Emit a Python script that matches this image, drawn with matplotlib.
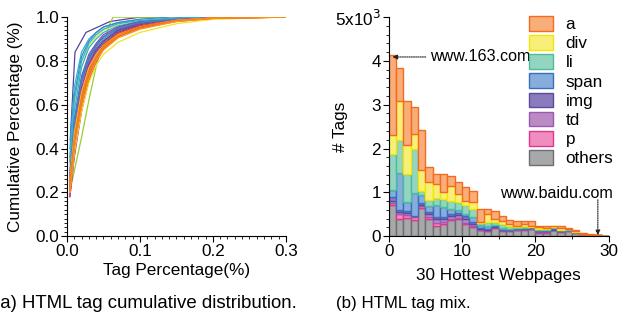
import numpy as np
import matplotlib.pyplot as plt
from matplotlib.ticker import MultipleLocator, FixedLocator

plt.rcParams['font.family'] = ['Liberation Sans', 'DejaVu Sans']

# ---- left: cumulative distribution of tag percentage, one curve per page ----
grid_x = [0.004, 0.01, 0.02, 0.03, 0.04, 0.05, 0.07, 0.1, 0.15, 0.2, 0.3]

# two pages that stand out
purple_x = [0.0045, 0.011, 0.026, 0.059, 0.1, 0.3]
purple_y = [0.44, 0.84, 0.93, 0.98, 1.0, 1.0]
green_x = [0.005, 0.02, 0.03, 0.041, 0.05, 0.059, 0.063, 0.3]
green_y = [0.22, 0.45, 0.62, 0.79, 0.88, 0.97, 1.0, 1.0]

# remaining pages on a shared x grid
cdf_colors = ['#29b5d9', '#3d85c6', '#f0e32a', '#29b5d9', '#8e44ad', '#5b3f9e',
              '#3d85c6', '#c0399e', '#6a3d9a', '#8e44ad', '#2bb5a0', '#5b3f9e',
              '#c0399e', '#7b3fa0', '#3d85c6', '#29b5d9', '#9b4fb0', '#c0399e',
              '#f0e32a', '#b5d334', '#e04a8a', '#e8432a', '#f9b233', '#f7931e',
              '#f26522', '#f7931e', '#f26522', '#f7931e']
cdf_y = [
    [0.40, 0.68, 0.84, 0.90, 0.93, 0.955, 0.975, 0.99, 1.0, 1.0, 1.0],
    [0.36, 0.64, 0.82, 0.89, 0.93, 0.955, 0.975, 0.99, 1.0, 1.0, 1.0],
    [0.33, 0.60, 0.79, 0.87, 0.91, 0.94, 0.965, 0.985, 0.997, 1.0, 1.0],
    [0.30, 0.57, 0.77, 0.86, 0.90, 0.93, 0.96, 0.98, 0.995, 1.0, 1.0],
    [0.28, 0.53, 0.73, 0.83, 0.88, 0.92, 0.955, 0.98, 0.995, 1.0, 1.0],
    [0.26, 0.50, 0.71, 0.81, 0.87, 0.91, 0.95, 0.975, 0.993, 1.0, 1.0],
    [0.25, 0.49, 0.70, 0.80, 0.86, 0.90, 0.945, 0.975, 0.993, 1.0, 1.0],
    [0.24, 0.47, 0.68, 0.79, 0.85, 0.89, 0.94, 0.97, 0.99, 1.0, 1.0],
    [0.23, 0.46, 0.67, 0.78, 0.85, 0.89, 0.94, 0.97, 0.99, 0.998, 1.0],
    [0.22, 0.44, 0.65, 0.77, 0.84, 0.885, 0.935, 0.97, 0.99, 0.998, 1.0],
    [0.22, 0.43, 0.64, 0.76, 0.83, 0.88, 0.93, 0.965, 0.99, 0.998, 1.0],
    [0.21, 0.42, 0.63, 0.75, 0.83, 0.875, 0.93, 0.965, 0.988, 0.997, 1.0],
    [0.20, 0.41, 0.62, 0.75, 0.82, 0.87, 0.925, 0.96, 0.987, 0.997, 1.0],
    [0.19, 0.40, 0.61, 0.74, 0.82, 0.87, 0.925, 0.96, 0.987, 0.997, 1.0],
    [0.27, 0.52, 0.72, 0.82, 0.875, 0.91, 0.95, 0.975, 0.993, 1.0, 1.0],
    [0.34, 0.62, 0.80, 0.88, 0.92, 0.945, 0.97, 0.985, 0.996, 1.0, 1.0],
    [0.18, 0.37, 0.58, 0.72, 0.80, 0.86, 0.92, 0.96, 0.988, 0.997, 1.0],
    [0.18, 0.36, 0.57, 0.71, 0.795, 0.855, 0.915, 0.955, 0.985, 0.996, 1.0],
    [0.20, 0.38, 0.57, 0.70, 0.78, 0.83, 0.885, 0.93, 0.97, 0.99, 1.0],
    [0.22, 0.42, 0.61, 0.73, 0.81, 0.86, 0.915, 0.955, 0.985, 0.996, 1.0],
    [0.21, 0.42, 0.63, 0.75, 0.82, 0.87, 0.925, 0.96, 0.987, 0.997, 1.0],
    [0.25, 0.45, 0.64, 0.76, 0.83, 0.875, 0.925, 0.96, 0.985, 0.996, 1.0],
    [0.26, 0.47, 0.66, 0.77, 0.83, 0.87, 0.92, 0.955, 0.985, 0.996, 1.0],
    [0.24, 0.44, 0.63, 0.75, 0.82, 0.87, 0.92, 0.955, 0.985, 0.996, 1.0],
    [0.23, 0.43, 0.62, 0.74, 0.815, 0.865, 0.915, 0.955, 0.983, 0.995, 1.0],
    [0.22, 0.42, 0.61, 0.735, 0.81, 0.86, 0.915, 0.95, 0.982, 0.995, 1.0],
    [0.21, 0.41, 0.60, 0.73, 0.805, 0.855, 0.91, 0.95, 0.98, 0.994, 1.0],
    [0.20, 0.40, 0.59, 0.72, 0.80, 0.85, 0.905, 0.945, 0.98, 0.994, 1.0],
]

# ---- right: stacked tag counts (thousands) for the 30 hottest pages ----
tags = ['others', 'p', 'td', 'img', 'span', 'li', 'div', 'a']
others = [0.70, 0.40, 0.42, 0.37, 0.65, 0.38, 0.24, 0.28, 0.36, 0.38, 0.27, 0.21, 0.13, 0.11, 0.18,
          0.11, 0.11, 0.13, 0.14, 0.16, 0.08, 0.08, 0.13, 0.09, 0.11, 0.07, 0.03, 0.015, 0.01, 0]
p = [0.05, 0.11, 0.07, 0.06, 0.03, 0.05, 0.05, 0.04, 0.04, 0.04, 0.04, 0.03, 0.02, 0.02, 0.02,
     0.02, 0.02, 0.02, 0.02, 0.01, 0.02, 0.02, 0.01, 0.01, 0.01, 0.01, 0.02, 0.015, 0.01, 0]
td = [0.06, 0.04, 0.03, 0.02, 0.04, 0.08, 0.10, 0.08, 0.07, 0.07, 0.07, 0.04, 0.02, 0.02, 0.01,
      0.01, 0.01, 0.01, 0.01, 0.01, 0.01, 0.01, 0.01, 0.01, 0.01, 0.01, 0, 0, 0, 0]
img = [0.09, 0.04, 0.05, 0.02, 0.03, 0.04, 0.04, 0.03, 0.04, 0.03, 0.09, 0.04, 0.02, 0.02, 0.02,
       0.01, 0.01, 0.01, 0.01, 0.01, 0.01, 0.01, 0.01, 0.01, 0.01, 0, 0, 0, 0, 0]
span = [0.16, 0.85, 0.21, 0.52, 0.18, 0.13, 0.29, 0.23, 0.11, 0.07, 0.04, 0.11, 0.07, 0.05, 0.02,
        0.03, 0.02, 0.01, 0.01, 0.02, 0.02, 0.01, 0.04, 0.02, 0.01, 0.01, 0.005, 0, 0, 0]
li = [0.82, 0.76, 0.64, 1.00, 0.10, 0.15, 0.15, 0.19, 0.18, 0.19, 0.21, 0.19, 0.04, 0.10, 0.07,
      0.09, 0.07, 0.03, 0.04, 0.00, 0.03, 0.03, 0.01, 0.01, 0.01, 0, 0, 0, 0, 0]
div = [0.42, 0.88, 0.67, 0.33, 0.47, 0.40, 0.32, 0.15, 0.34, 0.19, 0.08, 0.17, 0.02, 0.19, 0.08,
       0.07, 0.04, 0.03, 0.04, 0.03, 0.04, 0.03, 0.01, 0.03, 0.01, 0.01, 0, 0, 0, 0]
a = [1.84, 0.76, 0.99, 0.62, 0.93, 0.34, 0.23, 0.41, 0.23, 0.26, 0.32, 0.24, 0.30, 0.11, 0.17,
     0.13, 0.08, 0.10, 0.07, 0.10, 0.03, 0.05, 0.02, 0.06, 0.02, 0.02, 0.02, 0.01, 0, 0]
counts = [others, p, td, img, span, li, div, a]
fills = ['#a7a8aa', '#ee8dbe', '#b98ac4', '#8a7bbe', '#86aedc', '#93d5c0', '#f7ef7a', '#f9ad78']
edges = ['#6d6e70', '#e33590', '#9b59b4', '#5b4a9e', '#3a6fbf', '#4cbe9b', '#f5e600', '#f26b21']
ytick_labels = ['0', '1', '2', '3', '4', '5x10$^3$']

fig = plt.figure(figsize=(6.2, 3.23), dpi=100)
fs = 12.3

ax1 = fig.add_axes([0.108, 0.269, 0.353, 0.678])
ax1.plot(purple_x, purple_y, color='#5b3f9e', lw=0.9)
ax1.plot(green_x, green_y, color='#9acd32', lw=0.9)
for c, ys in zip(cdf_colors, cdf_y):
    ax1.plot(grid_x, ys, color=c, lw=0.9)
ax1.set_xlim(0, 0.3)
ax1.set_ylim(0, 1.0)
ax1.xaxis.set_major_locator(MultipleLocator(0.1))
ax1.xaxis.set_minor_locator(MultipleLocator(0.01))
ax1.yaxis.set_major_locator(MultipleLocator(0.2))
ax1.yaxis.set_minor_locator(MultipleLocator(0.02))
ax1.xaxis.set_major_formatter(plt.FuncFormatter(lambda v, pos: f'{v:.1f}'))
ax1.yaxis.set_major_formatter(plt.FuncFormatter(lambda v, pos: f'{v:.1f}'))
ax1.set_xlabel('Tag Percentage(%)', fontsize=fs, va='center')
ax1.set_ylabel('Cumulative Percentage (%)', fontsize=fs, va='center')
ax1.xaxis.set_label_coords(0.5, -0.155)
ax1.yaxis.set_label_coords(-0.235, 0.5)

ax2 = fig.add_axes([0.627, 0.269, 0.355, 0.678])
xpos = np.arange(len(a))
bottom = np.zeros(len(a))
for name, vals, fc, ec in zip(tags, counts, fills, edges):
    ax2.bar(xpos, vals, width=1, bottom=bottom, align='edge', facecolor=fc,
            edgecolor=ec, lw=1, label=name)
    bottom += np.array(vals)
ax2.set_xlim(0, 30)
ax2.set_ylim(0, 5)
ax2.xaxis.set_major_locator(MultipleLocator(10))
ax2.xaxis.set_minor_locator(MultipleLocator(5))
ax2.yaxis.set_major_locator(FixedLocator(range(len(ytick_labels))))
ax2.yaxis.set_minor_locator(MultipleLocator(0.2))
ax2.set_yticklabels(ytick_labels)
ax2.set_xlabel('30 Hottest Webpages', fontsize=fs, va='center')
ax2.set_ylabel('# Tags', fontsize=fs, va='center')
ax2.xaxis.set_label_coords(0.5, -0.18)
ax2.yaxis.set_label_coords(-0.22, 0.5)

h, l = ax2.get_legend_handles_labels()
ax2.legend(h[::-1], l[::-1], loc='upper right', bbox_to_anchor=(1.075, 1.06), frameon=False,
           fontsize=fs, handlelength=1.4, handleheight=0.95, labelspacing=0.17,
           handletextpad=0.75, borderpad=0.2)

ax2.annotate('www.163.com', xy=(0.5, 4.09), xytext=(5.6, 4.09), va='center', fontsize=11.6,
             arrowprops=dict(arrowstyle='-|>', linestyle=(0, (1, 1)), color='#222222',
                             lw=0.8, mutation_scale=7, shrinkA=1, shrinkB=0))
ax2.annotate('', xy=(28.5, 0.02), xytext=(28.5, 0.83),
             arrowprops=dict(arrowstyle='-|>', linestyle=(0, (1, 1)), color='#222222',
                             lw=0.8, mutation_scale=7, shrinkA=0, shrinkB=0))
ax2.text(22.9, 0.98, 'www.baidu.com', ha='center', va='center', fontsize=11.6)

for ax in (ax1, ax2):
    for s in ('top', 'right'):
        ax.spines[s].set_visible(False)
    ax.tick_params(which='major', direction='out', length=4, width=0.8, labelsize=fs, pad=1.5)
    ax.tick_params(which='minor', direction='out', length=2, width=0.6)

fig.text(-0.01, 0.06, '(a) HTML tag cumulative distribution.', fontsize=13.4, va='center')
fig.text(0.542, 0.06, '(b) HTML tag mix.', fontsize=12.2, va='center')

fig.savefig('out.png', dpi=100)
